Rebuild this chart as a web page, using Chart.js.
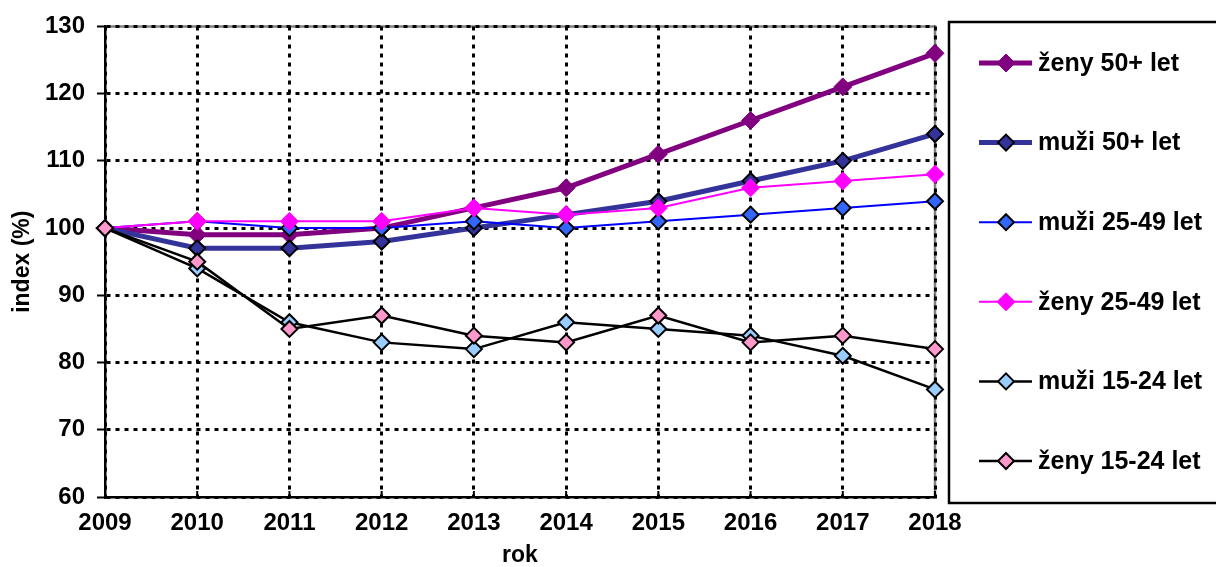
<!DOCTYPE html>
<html>
<head>
<meta charset="utf-8">
<script src="https://cdn.jsdelivr.net/npm/chart.js@4"></script>
<style>
  html, body { margin: 0; padding: 0; background: #fff; }
  #wrap { width: 1216px; height: 567px; }
</style>
</head>
<body>
<div id="wrap"><canvas id="chart" width="1216" height="567"></canvas></div>
<script>
var years = ['2009', '2010', '2011', '2012', '2013', '2014', '2015', '2016', '2017', '2018'];
var zeny50 = [100, 99, 99, 100, 103, 106, 111, 116, 121, 126];
var muzi50 = [100, 97, 97, 98, 100, 102, 104, 107, 110, 114];
var muzi25 = [100, 101, 100, 100, 101, 100, 101, 102, 103, 104];
var zeny25 = [100, 101, 101, 101, 103, 102, 103, 106, 107, 108];
var muzi15 = [100, 94, 86, 83, 82, 86, 85, 84, 81, 76];
var zeny15 = [100, 95, 85, 87, 84, 83, 87, 83, 84, 82];
var yTicks = [60, 70, 80, 90, 100, 110, 120, 130];

var FONT = "'Liberation Sans', Arial, sans-serif";

function series(label, data, line, width, fill, border, radius, order) {
    return {
        label: label,
        data: data,
        borderColor: line,
        borderWidth: width,
        backgroundColor: fill,
        pointBackgroundColor: fill,
        pointBorderColor: border,
        pointBorderWidth: border === fill ? 1 : 2,
        pointStyle: 'rectRot',
        pointRadius: radius,
        pointHoverRadius: radius,
        tension: 0,
        fill: false,
        clip: false,
        order: order
    };
}

var datasets = [
    series('ženy 50+ let', zeny50, '#800080', 5, '#800080', '#800080', 9, 6),
    series('muži 50+ let', muzi50, '#333399', 5, '#333399', '#000000', 8, 5),
    series('muži 25-49 let', muzi25, '#0000FF', 2, '#3366FF', '#000000', 8, 4),
    series('ženy 25-49 let', zeny25, '#FF00FF', 2, '#FF00FF', '#FF00FF', 9, 3),
    series('muži 15-24 let', muzi15, '#000000', 2.5, '#99CCFF', '#000000', 8, 2),
    series('ženy 15-24 let', zeny15, '#000000', 2.5, '#FF99CC', '#000000', 8, 1)
];

// gray frame on top/right, inward ticks on x axis, boxed legend on the right
var extras = {
    id: 'extras',
    beforeDraw: function (chart) {
        var a = chart.chartArea, c = chart.ctx;
        c.save();
        c.strokeStyle = '#808080';
        c.lineWidth = 2.5;
        c.beginPath();
        c.moveTo(a.left, a.top);
        c.lineTo(a.right, a.top);
        c.lineTo(a.right, a.bottom);
        c.stroke();
        c.restore();
    },
    afterDraw: function (chart) {
        var a = chart.chartArea, c = chart.ctx, x = chart.scales.x;
        c.save();
        c.strokeStyle = '#000';
        c.lineWidth = 2;
        for (var i = 0; i < years.length; i++) {
            var px = x.getPixelForTick(i);
            c.beginPath();
            c.moveTo(px, a.bottom);
            c.lineTo(px, a.bottom - 6);
            c.stroke();
        }

        c.lineWidth = 2.5;
        c.strokeRect(949, 22, 280, 481);

        var ds = chart.data.datasets;
        c.font = 'bold 25px ' + FONT;
        c.textBaseline = 'middle';
        c.textAlign = 'left';
        for (var k = 0; k < ds.length; k++) {
            var y = 63 + k * 79.6;
            var d = ds[k];
            c.strokeStyle = d.borderColor;
            c.lineWidth = d.borderWidth;
            c.beginPath();
            c.moveTo(979, y);
            c.lineTo(1032, y);
            c.stroke();
            var r = d.pointRadius;
            c.beginPath();
            c.moveTo(1006, y - r);
            c.lineTo(1006 + r, y);
            c.lineTo(1006, y + r);
            c.lineTo(1006 - r, y);
            c.closePath();
            c.fillStyle = d.pointBackgroundColor;
            c.fill();
            c.strokeStyle = d.pointBorderColor;
            c.lineWidth = d.pointBorderWidth;
            c.stroke();
            c.fillStyle = '#000';
            c.fillText(d.label, 1038, y + 1);
        }
        c.restore();
    }
};

var ctx = document.getElementById('chart').getContext('2d');
var chart = new Chart(ctx, {
    type: 'line',
    data: { labels: years, datasets: datasets },
    plugins: [extras],
    options: {
        responsive: false,
        animation: false,
        layout: { padding: { top: 24, right: 281, bottom: 0, left: 0 } },
        plugins: { legend: { display: false }, tooltip: { enabled: false } },
        scales: {
            x: {
                offset: false,
                grid: {
                    color: '#000',
                    lineWidth: 3,
                    drawTicks: false
                },
                border: { display: true, color: '#000', width: 2.5, dash: [4, 5] },
                ticks: {
                    color: '#000',
                    padding: 12,
                    maxRotation: 0,
                    autoSkip: false,
                    font: { family: FONT, size: 24, weight: 'bold' }
                },
                title: {
                    display: true,
                    text: 'rok',
                    color: '#000',
                    padding: { top: 4, bottom: 0 },
                    font: { family: FONT, size: 23, weight: 'bold', lineHeight: 1 }
                },
                afterFit: function (s) { s.height = 70; }
            },
            y: {
                min: 60,
                max: 130,
                afterBuildTicks: function (s) {
                    s.ticks = yTicks.map(function (v) { return { value: v }; });
                },
                grid: {
                    color: '#000',
                    lineWidth: 3,
                    tickLength: 8,
                    tickColor: '#000',
                    tickWidth: 2,
                    tickBorderDash: [0, 0]
                },
                border: { display: true, color: '#000', width: 2.5, dash: [4, 5] },
                ticks: {
                    color: '#000',
                    padding: 12,
                    font: { family: FONT, size: 24, weight: 'bold' }
                },
                title: {
                    display: true,
                    text: 'index (%)',
                    color: '#000',
                    padding: { top: 11.5, bottom: 0 },
                    font: { family: FONT, size: 23, weight: 'bold', lineHeight: 1 }
                },
                afterFit: function (s) { s.width = 105; }
            }
        }
    }
});
</script>
</body>
</html>
